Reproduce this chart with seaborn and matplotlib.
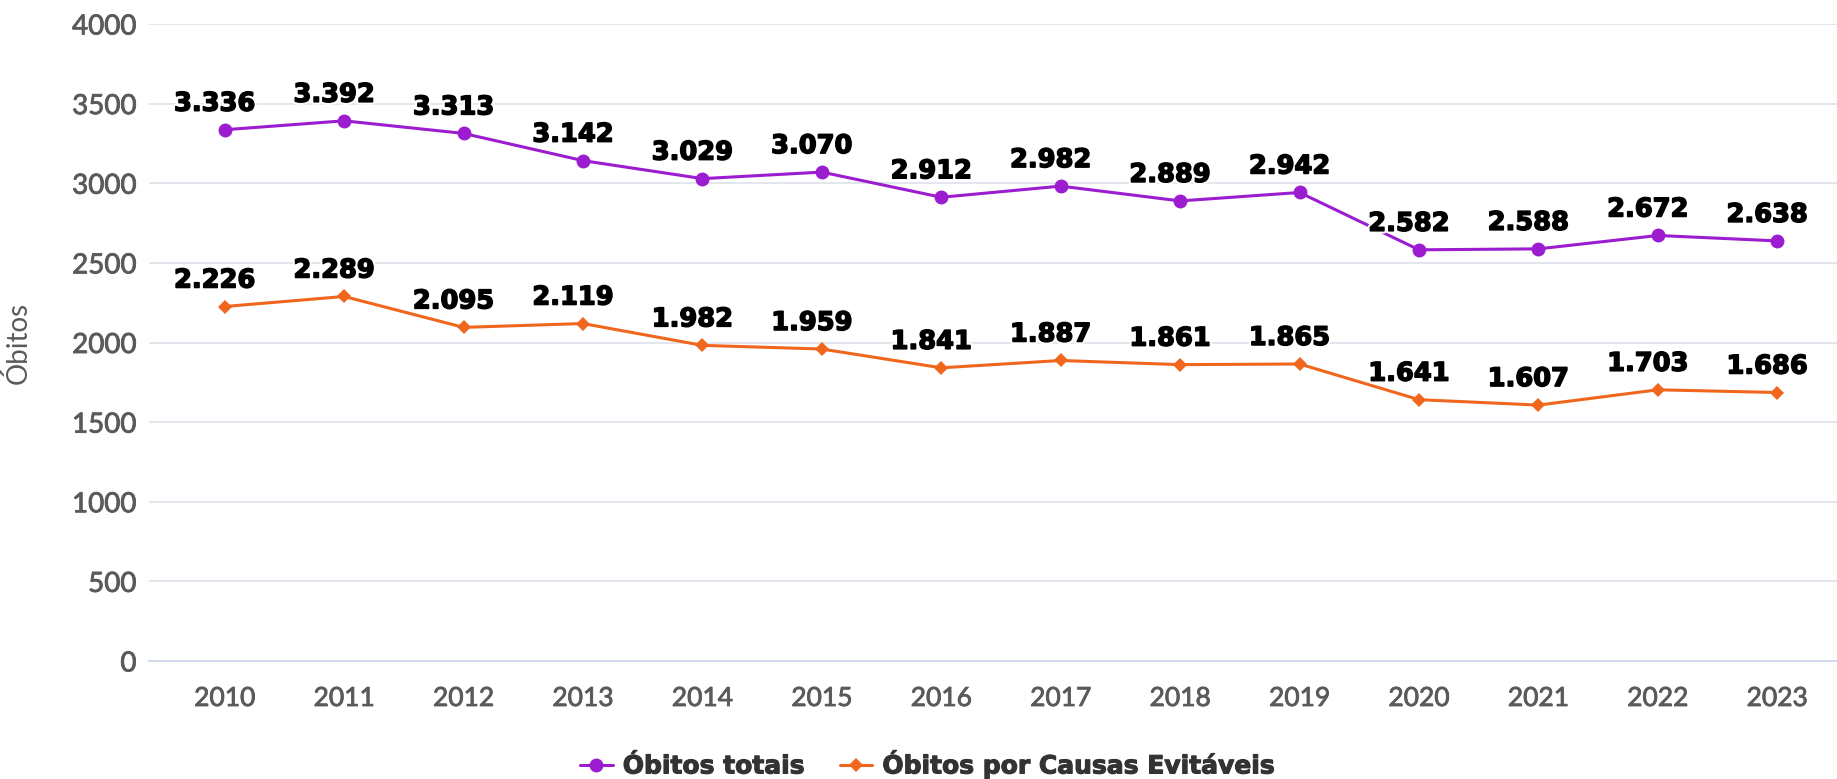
import matplotlib
matplotlib.use("Agg")
import matplotlib.pyplot as plt
import matplotlib.patheffects as pe
from matplotlib.ticker import FixedLocator
import seaborn as sns
import pandas as pd

years = ["2010", "2011", "2012", "2013", "2014", "2015", "2016",
         "2017", "2018", "2019", "2020", "2021", "2022", "2023"]
obitos_totais = [3336, 3392, 3313, 3142, 3029, 3070, 2912,
                 2982, 2889, 2942, 2582, 2588, 2672, 2638]
obitos_evitaveis = [2226, 2289, 2095, 2119, 1982, 1959, 1841,
                    1887, 1861, 1865, 1641, 1607, 1703, 1686]
series_names = ["Óbitos totais", "Óbitos por Causas Evitáveis"]
y_ticks = [0, 500, 1000, 1500, 2000, 2500, 3000, 3500, 4000]
y_label = "Óbitos"

PURPLE = "#9c1ccf"
ORANGE = "#f0661d"
GRID = "#dde3ea"
AXIS = "#ccd6eb"
TICK_TXT = "#5a5a5a"

sns.set_style("white")
plt.rcParams["font.family"] = ["Lato", "DejaVu Sans"]

fig = plt.figure(figsize=(18.37, 7.79), dpi=100)
ax = fig.add_axes([149 / 1837, 1 - 661 / 779, 1 - 149 / 1837, (661 - 24) / 779])

df = pd.DataFrame({
    "Ano": years * 2,
    "Valor": obitos_totais + obitos_evitaveis,
    "Serie": [series_names[0]] * len(years) + [series_names[1]] * len(years),
})

sns.lineplot(data=df[df.Serie == series_names[0]], x="Ano", y="Valor", ax=ax,
             color=PURPLE, linewidth=2.2, marker="o", markersize=10,
             markeredgewidth=0, label=series_names[0], zorder=3)
sns.lineplot(data=df[df.Serie == series_names[1]], x="Ano", y="Valor", ax=ax,
             color=ORANGE, linewidth=2.2, marker="D", markersize=7.5,
             markeredgewidth=0, label=series_names[1], zorder=3)

label_fx = [pe.Stroke(linewidth=4, foreground="white"),
            pe.Stroke(linewidth=1.1, foreground="black"),
            pe.Normal()]

# data labels
for vals in (obitos_totais, obitos_evitaveis):
    for i, v in enumerate(vals):
        txt = f"{v:,}".replace(",", ".")
        ax.annotate(txt, xy=(i, v), xytext=(-10, 26), textcoords="offset pixels",
                    ha="center", va="center", fontsize=18.5, fontweight="bold",
                    family=["DejaVu Sans"], color="#000000", zorder=5,
                    path_effects=label_fx)

n = len(years)
cat_w = (1837 - 165) / n
left_extra = (165 - 149) / cat_w
ax.set_xlim(-0.5 - left_extra, n - 0.5)
ax.set_ylim(0, 4000)
ax.set_yticks(y_ticks)
ax.set_yticklabels([str(t) for t in y_ticks])
ax.set_xticks(range(n))
ax.set_xticklabels(years)
ax.xaxis.set_minor_locator(FixedLocator([i - 0.5 for i in range(n + 1)]))

ax.grid(axis="y", color=GRID, linewidth=1.2, zorder=0)
ax.grid(axis="x", visible=False)
for s in ("top", "right", "left"):
    ax.spines[s].set_visible(False)
ax.spines["bottom"].set_color(AXIS)
ax.spines["bottom"].set_linewidth(1.2)

ax.tick_params(axis="x", which="major", length=0, pad=18, labelsize=19,
               labelcolor=TICK_TXT)
ax.tick_params(axis="x", which="minor", length=11.5, width=1.2, color=AXIS)
ax.tick_params(axis="y", length=0, pad=9, labelsize=20, labelcolor=TICK_TXT)
tick_fx = [pe.Stroke(linewidth=0.6, foreground=TICK_TXT), pe.Normal()]
for lab in ax.get_xticklabels() + ax.get_yticklabels():
    lab.set_path_effects(tick_fx)

ax.set_xlabel("")
ax.set_ylabel(y_label, fontsize=20, color=TICK_TXT)
ax.yaxis.set_label_coords((32 - 149) / (1837 - 149), 0.5)

handles, labels = ax.get_legend_handles_labels()
ax.get_legend().remove()
leg = fig.legend(handles, labels, loc="center", bbox_to_anchor=(0.505, 0.019),
                 ncol=2, frameon=False, handlelength=1.3, handletextpad=0.4,
                 columnspacing=1.4, prop={"family": "DejaVu Sans", "weight": "bold", "size": 18})
for t in leg.get_texts():
    t.set_color("#333333")
    t.set_path_effects([pe.Stroke(linewidth=0.8, foreground="#333333"), pe.Normal()])

fig.savefig("out.png", dpi=100)
